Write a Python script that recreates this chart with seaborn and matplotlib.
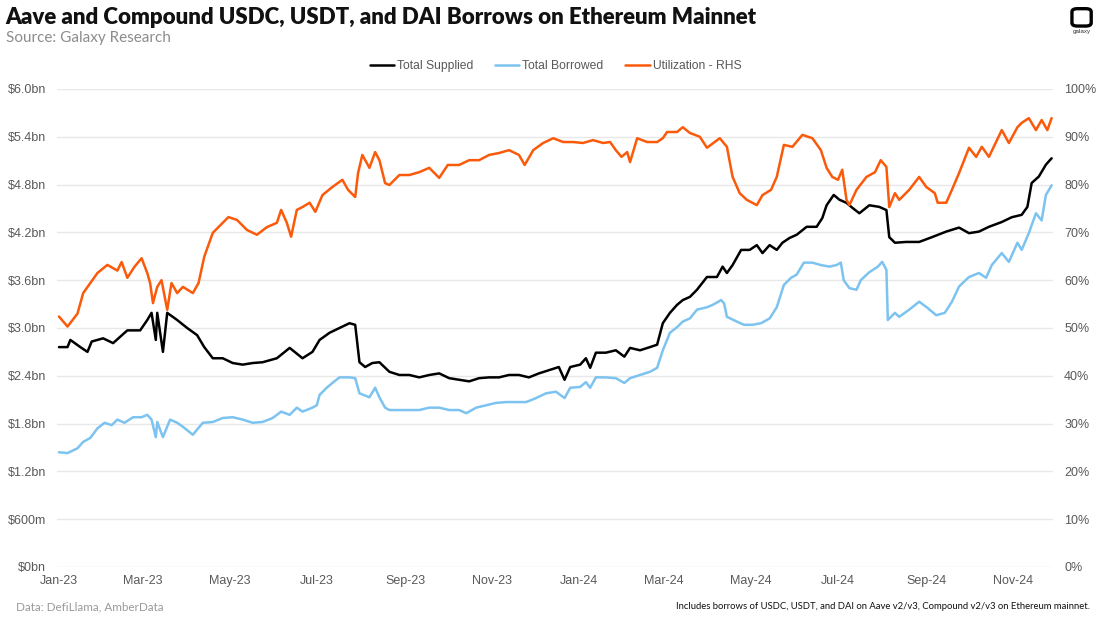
import numpy as np
import pandas as pd
import matplotlib
matplotlib.use("Agg")
import matplotlib.pyplot as plt
import matplotlib.dates as mdates
from matplotlib.patches import FancyBboxPatch
from matplotlib.lines import Line2D
import seaborn as sns

# values (days counted from 2023-01-01)
supplied_days = [0, 6, 8, 15, 20, 23, 31, 38, 43, 48, 57, 62, 65, 68, 69, 73, 76, 83, 90, 97,
                 102, 108, 115, 122, 129, 136, 143, 153, 162, 171, 178, 183, 190, 197, 204, 208, 211, 215, 220, 225,
                 232, 239, 246, 253, 260, 267, 274, 281, 288, 295, 302, 309, 316, 323, 330, 337, 344, 351, 355, 359,
                 366, 370, 373, 377, 384, 391, 397, 401, 408, 415, 420, 424, 429, 434, 438, 443, 448, 455, 462, 466,
                 469, 473, 479, 485, 490, 494, 499, 504, 508, 513, 518, 525, 532, 536, 539, 544, 548, 553, 557, 562,
                 569, 576, 581, 583, 587, 595, 604, 613, 623, 632, 639, 646, 653, 662, 669, 676, 680, 683, 688, 693, 697]
supplied_bn = [2.76, 2.76, 2.85, 2.76, 2.70, 2.83, 2.87, 2.81, 2.89, 2.97, 2.97, 3.10, 3.19, 2.85, 3.19, 2.70, 3.19, 3.10, 3.00, 2.91,
               2.76, 2.62, 2.62, 2.56, 2.54, 2.56, 2.57, 2.62, 2.75, 2.62, 2.70, 2.85, 2.94, 3.00, 3.06, 3.04, 2.57, 2.51, 2.56, 2.57,
               2.45, 2.41, 2.41, 2.38, 2.41, 2.43, 2.37, 2.35, 2.33, 2.37, 2.38, 2.38, 2.41, 2.41, 2.38, 2.43, 2.47, 2.51, 2.35, 2.51,
               2.54, 2.62, 2.50, 2.69, 2.69, 2.72, 2.64, 2.75, 2.72, 2.76, 2.79, 3.06, 3.19, 3.29, 3.35, 3.39, 3.48, 3.64, 3.64, 3.77,
               3.69, 3.79, 3.98, 3.98, 4.04, 3.94, 4.04, 3.98, 4.07, 4.13, 4.17, 4.27, 4.27, 4.38, 4.54, 4.67, 4.61, 4.57, 4.51, 4.44,
               4.54, 4.52, 4.48, 4.14, 4.07, 4.08, 4.08, 4.14, 4.21, 4.26, 4.19, 4.21, 4.27, 4.33, 4.39, 4.42, 4.52, 4.82, 4.90, 5.05, 5.13]

borrowed_days = [0, 6, 13, 17, 22, 27, 32, 37, 41, 46, 52, 58, 62, 65, 68, 69, 73, 78, 83, 87,
                 94, 101, 108, 115, 122, 129, 136, 143, 150, 156, 162, 167, 171, 178, 181, 183, 188, 192, 197, 204,
                 208, 211, 218, 222, 225, 229, 232, 239, 246, 253, 260, 267, 274, 281, 286, 293, 300, 307, 314, 321,
                 328, 335, 342, 349, 355, 359, 366, 370, 373, 377, 384, 391, 397, 401, 408, 415, 420, 424, 429, 434,
                 438, 443, 448, 455, 459, 465, 467, 469, 476, 481, 487, 493, 499, 504, 509, 514, 518, 523, 529, 535,
                 541, 546, 549, 551, 555, 560, 563, 569, 575, 578, 581, 582, 587, 590, 597, 604, 610, 616, 622, 627,
                 632, 639, 646, 651, 655, 662, 667, 673, 676, 681, 686, 690, 693, 697]
borrowed_bn = [1.44, 1.43, 1.49, 1.57, 1.62, 1.74, 1.81, 1.78, 1.85, 1.81, 1.88, 1.88, 1.91, 1.85, 1.63, 1.82, 1.63, 1.85, 1.81, 1.76,
               1.66, 1.81, 1.82, 1.87, 1.88, 1.85, 1.81, 1.82, 1.87, 1.95, 1.91, 2.00, 1.95, 2.00, 2.03, 2.16, 2.25, 2.31, 2.38, 2.38,
               2.37, 2.18, 2.13, 2.25, 2.13, 2.00, 1.97, 1.97, 1.97, 1.97, 2.00, 2.00, 1.97, 1.97, 1.93, 2.00, 2.03, 2.06, 2.07, 2.07,
               2.07, 2.12, 2.18, 2.20, 2.12, 2.25, 2.26, 2.32, 2.25, 2.38, 2.38, 2.37, 2.31, 2.37, 2.41, 2.45, 2.50, 2.72, 2.94, 3.01,
               3.08, 3.12, 3.23, 3.26, 3.29, 3.35, 3.31, 3.14, 3.08, 3.04, 3.04, 3.06, 3.12, 3.26, 3.54, 3.63, 3.67, 3.82, 3.82, 3.79,
               3.77, 3.79, 3.82, 3.60, 3.50, 3.48, 3.60, 3.70, 3.77, 3.83, 3.73, 3.10, 3.19, 3.14, 3.23, 3.33, 3.25, 3.16, 3.19, 3.33,
               3.52, 3.64, 3.69, 3.63, 3.79, 3.94, 3.83, 4.07, 3.98, 4.19, 4.44, 4.35, 4.67, 4.79]

util_days = [0, 6, 13, 17, 22, 27, 34, 41, 44, 48, 53, 58, 62, 64, 66, 69, 72, 76, 79, 83,
             87, 94, 98, 102, 108, 115, 119, 125, 132, 139, 146, 153, 156, 160, 163, 167, 171, 176, 180, 185,
             192, 199, 203, 208, 210, 213, 218, 222, 225, 229, 232, 239, 246, 253, 260, 267, 273, 281, 288, 295,
             302, 309, 316, 323, 327, 333, 340, 347, 354, 361, 368, 375, 382, 387, 391, 395, 399, 401, 406, 413,
             420, 424, 427, 434, 438, 443, 450, 455, 464, 469, 473, 478, 483, 490, 494, 500, 504, 509, 515, 522,
             529, 535, 539, 543, 547, 550, 553, 555, 560, 567, 573, 577, 581, 583, 587, 590, 597, 604, 609, 615,
             617, 623, 627, 632, 639, 644, 648, 653, 658, 662, 667, 673, 676, 681, 686, 690, 694, 697]
util_pct = [52.4, 50.3, 53.0, 57.3, 59.4, 61.5, 63.2, 62.0, 63.8, 60.5, 62.8, 64.6, 61.5, 59.4, 55.2, 58.6, 60.0, 53.8, 59.4, 57.3,
            58.6, 57.3, 59.4, 64.9, 69.9, 72.0, 73.2, 72.6, 70.5, 69.5, 71.1, 72.0, 74.7, 72.0, 69.1, 74.7, 75.3, 76.2, 74.3, 77.8,
            79.5, 81.0, 78.9, 77.4, 82.4, 86.2, 83.5, 86.8, 85.1, 80.3, 79.9, 82.0, 82.0, 82.6, 83.5, 81.4, 84.1, 84.1, 85.1, 85.1,
            86.2, 86.6, 87.2, 86.2, 84.1, 87.2, 88.7, 89.7, 88.9, 88.9, 88.7, 89.3, 88.7, 88.9, 87.2, 85.8, 86.8, 84.7, 89.7, 88.9,
            88.9, 89.7, 91.0, 91.0, 92.0, 90.8, 90.0, 87.7, 89.7, 87.9, 81.6, 78.2, 76.8, 75.7, 77.8, 78.9, 81.6, 88.3, 87.9, 90.4,
            89.7, 87.2, 83.5, 81.6, 81.0, 83.1, 76.8, 75.7, 78.9, 81.6, 82.6, 85.1, 83.7, 75.3, 78.2, 76.8, 78.9, 81.6, 79.5, 78.2,
            76.2, 76.2, 78.9, 82.4, 87.7, 85.8, 87.9, 85.8, 88.9, 91.4, 88.7, 92.0, 92.9, 93.9, 91.4, 93.5, 91.4, 93.9]

left_ticks = [0, 0.6, 1.2, 1.8, 2.4, 3.0, 3.6, 4.2, 4.8, 5.4, 6.0]
left_labels = ["$0bn", "$600m", "$1.2bn", "$1.8bn", "$2.4bn", "$3.0bn", "$3.6bn", "$4.2bn", "$4.8bn", "$5.4bn", "$6.0bn"]
right_ticks = [0, 10, 20, 30, 40, 50, 60, 70, 80, 90, 100]

series_names = ["Total Supplied", "Total Borrowed", "Utilization - RHS"]
colors = ["#000000", "#7cc3f0", "#fa5a0a"]

start = pd.Timestamp("2023-01-01")
sup = pd.DataFrame({"date": start + pd.to_timedelta(supplied_days, unit="D"), "v": supplied_bn})
bor = pd.DataFrame({"date": start + pd.to_timedelta(borrowed_days, unit="D"), "v": borrowed_bn})
utl = pd.DataFrame({"date": start + pd.to_timedelta(util_days, unit="D"), "v": util_pct})

sns.set_theme(style="white")
plt.rcParams["font.family"] = ["Liberation Sans", "DejaVu Sans"]

fig = plt.figure(figsize=(11, 6.2), dpi=100)
ax = fig.add_axes([0.0518, 0.0855, 0.9055, 0.771])

sns.lineplot(data=sup, x="date", y="v", ax=ax, color=colors[0], lw=1.8)
sns.lineplot(data=bor, x="date", y="v", ax=ax, color=colors[1], lw=1.8)
ax2 = ax.twinx()
sns.lineplot(data=utl, x="date", y="v", ax=ax2, color=colors[2], lw=1.8)

ax.set_ylim(0, 6.0)
ax.set_yticks(left_ticks)
ax.set_yticklabels(left_labels)
ax2.set_ylim(0, 100)
ax2.set_yticks(right_ticks)
ax2.set_yticklabels([f"{t}%" for t in right_ticks])
ax.set_xlim(start - pd.Timedelta(days=1.4), start + pd.Timedelta(days=698))
ax.xaxis.set_major_locator(mdates.MonthLocator(bymonth=[1, 3, 5, 7, 9, 11]))
ax.xaxis.set_major_formatter(mdates.DateFormatter("%b-%y"))

ax.grid(axis="y", color="#e8e8e8", lw=1)
ax.grid(axis="x", visible=False)
for a in (ax, ax2):
    a.set_xlabel("")
    a.set_ylabel("")
    for s in a.spines.values():
        s.set_visible(False)
    a.tick_params(length=0, labelsize=9, colors="#595959", pad=8)
ax.tick_params(axis="x", length=3, color="#e0e0e0", pad=3)

handles = [Line2D([], [], color=c, lw=1.8) for c in colors]
fig.legend(handles, series_names, loc="center", bbox_to_anchor=(0.505, 0.893), ncol=3,
           frameon=False, fontsize=8.7, handlelength=2.0, handletextpad=0.25, columnspacing=1.8,
           labelcolor="#595959")

fig.text(0.005, 0.972, "Aave and Compound USDC, USDT, and DAI Borrows on Ethereum Mainnet",
         fontsize=16, fontweight="heavy", family=["Lato", "DejaVu Sans"], va="center", color="#111111")
fig.text(0.005, 0.939, "Source: Galaxy Research", fontsize=11, family=["Lato", "DejaVu Sans"],
         va="center", color="#8c8c8c")
fig.text(0.015, 0.021, "Data: DefiLlama, AmberData", fontsize=8.4, family=["Lato", "DejaVu Sans"],
         va="center", color="#999999")
fig.text(0.991, 0.021, "Includes borrows of USDC, USDT, and DAI on Aave v2/v3, Compound v2/v3 on Ethereum mainnet.",
         fontsize=6.8, family=["Lato", "DejaVu Sans"], va="center", ha="right", color="#111111")

# galaxy logo
fig.patches.append(FancyBboxPatch((0.9765, 0.960), 0.0135, 0.024, boxstyle="round,pad=0.002,rounding_size=0.005",
                                  transform=fig.transFigure, fc="none", ec="black", lw=2.4))
fig.text(0.9835, 0.949, "galaxy", fontsize=4.5, ha="center", va="center", color="#333333")

fig.savefig("out.png", dpi=100)
